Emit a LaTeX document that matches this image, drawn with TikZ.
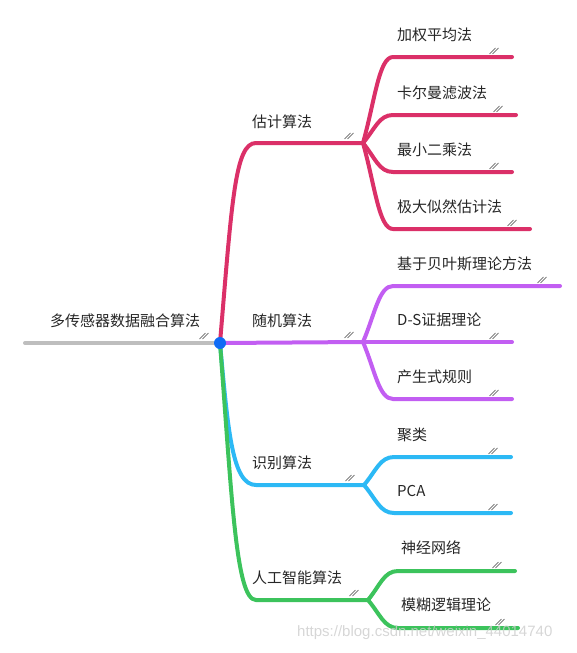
\documentclass[tikz,border=0pt]{standalone}
\usepackage{fontspec}
\newfontfamily\cjk{Noto Sans CJK SC}
\newfontfamily\wmfont{Liberation Sans}

\definecolor{estred}{HTML}{DB3068}
\definecolor{randpurple}{HTML}{C25EF2}
\definecolor{recblue}{HTML}{2CB9F5}
\definecolor{aigreen}{HTML}{3CC35C}
\definecolor{rootgray}{HTML}{BEBEBE}
\definecolor{dotblue}{HTML}{0F6BF5}

\tikzset{
    branch/.style={line width=4pt, line cap=round},
    topic/.style={anchor=west, inner sep=0pt, font=\cjk\fontsize{15}{18}\selectfont, text=black!85},
    hatch/.style={line width=0.5pt, draw=black!75},
    hatchmark/.pic={
        \draw[hatch] (-4.5,3) -- (1.5,-3);
        \draw[hatch] (-1.5,3) -- (4.5,-3);
    },
}

\begin{document}
\begin{tikzpicture}[x=1pt, y=-1pt]
    \useasboundingbox (0,0) rectangle (577,653);

    % root line
    \coordinate (start) at (25,343);
    \coordinate (root) at (220,343);
    \draw[branch, rootgray] (start) -- (root);
    \pic at (204,336) {hatchmark};
    \node[topic] (root-text) at (50,321) {多传感器数据融合算法};

    % main branches
    \coordinate (est) at (363,143);
    \coordinate (rand) at (363,342);
    \coordinate (rec) at (364,485);
    \coordinate (ai) at (368,600);

    \draw[branch, estred] (root) .. controls (232,200) and (235,143) .. (256,143) -- (est);
    \draw[branch, randpurple] (root) -- (rand);
    \draw[branch, recblue] (root) .. controls (228,430) and (232,485) .. (256,485) -- (rec);
    \draw[branch, aigreen] (root) .. controls (232,500) and (236,600) .. (256,600) -- (ai);

    \node[topic] (est-text) at (252,122) {估计算法};
    \node[topic] (rand-text) at (252,321) {随机算法};
    \node[topic] (rec-text) at (252,463) {识别算法};
    \node[topic] (ai-text) at (252,578) {人工智能算法};

    \pic at (349,136) {hatchmark};
    \pic at (349,335) {hatchmark};
    \pic at (350,478) {hatchmark};
    \pic at (354,593) {hatchmark};

    % leaves
    \foreach[count=\i] \ly/\ex/\txt in {57/512/加权平均法, 115/516/卡尔曼滤波法,
                                       172/512/最小二乘法, 229/530/极大似然估计法} {
        \coordinate (est-\i) at (\ex,\ly);
        \draw[branch, estred] (est) .. controls (375,{143+0.5*(\ly-143)}) and (379,\ly) .. (393,\ly) -- (est-\i);
        \node[topic] (est-\i-text) at (397,\ly-22) {\txt};
        \pic at (\ex-18,\ly-6) {hatchmark};
    }

    \foreach[count=\i] \ly/\ex/\txt in {286/560/基于贝叶斯理论方法, 342/512/D-S证据理论,
                                       399/512/产生式规则} {
        \coordinate (rand-\i) at (\ex,\ly);
        \draw[branch, randpurple] (rand) .. controls (375,{342+0.5*(\ly-342)}) and (379,\ly) .. (393,\ly) -- (rand-\i);
        \node[topic] (rand-\i-text) at (397,\ly-22) {\txt};
        \pic at (\ex-18,\ly-6) {hatchmark};
    }

    \foreach[count=\i] \ly/\ex/\txt in {457/511/聚类, 513/511/PCA} {
        \coordinate (rec-\i) at (\ex,\ly);
        \draw[branch, recblue] (rec) .. controls (376,{485+0.5*(\ly-485)}) and (380,\ly) .. (394,\ly) -- (rec-\i);
        \node[topic] (rec-\i-text) at (397,\ly-22) {\txt};
        \pic at (\ex-18,\ly-6) {hatchmark};
    }

    \foreach[count=\i] \ly/\ex/\txt in {571/515/神经网络, 628/518/模糊逻辑理论} {
        \coordinate (ai-\i) at (\ex,\ly);
        \draw[branch, aigreen] (ai) .. controls (380,{600+0.5*(\ly-600)}) and (384,\ly) .. (398,\ly) -- (ai-\i);
        \node[topic] (ai-\i-text) at (401,\ly-23) {\txt};
        \pic at (\ex-18,\ly-6) {hatchmark};
    }

    % centre dot
    \fill[dotblue] (root) circle (6);

    % watermark
    \node[anchor=west, inner sep=0pt, font=\wmfont\fontsize{15}{18}\selectfont, text=gray!40, opacity=0.8]
        (watermark) at (297,633) {https://blog.csdn.net/weixin\_44014740};
\end{tikzpicture}
\end{document}
